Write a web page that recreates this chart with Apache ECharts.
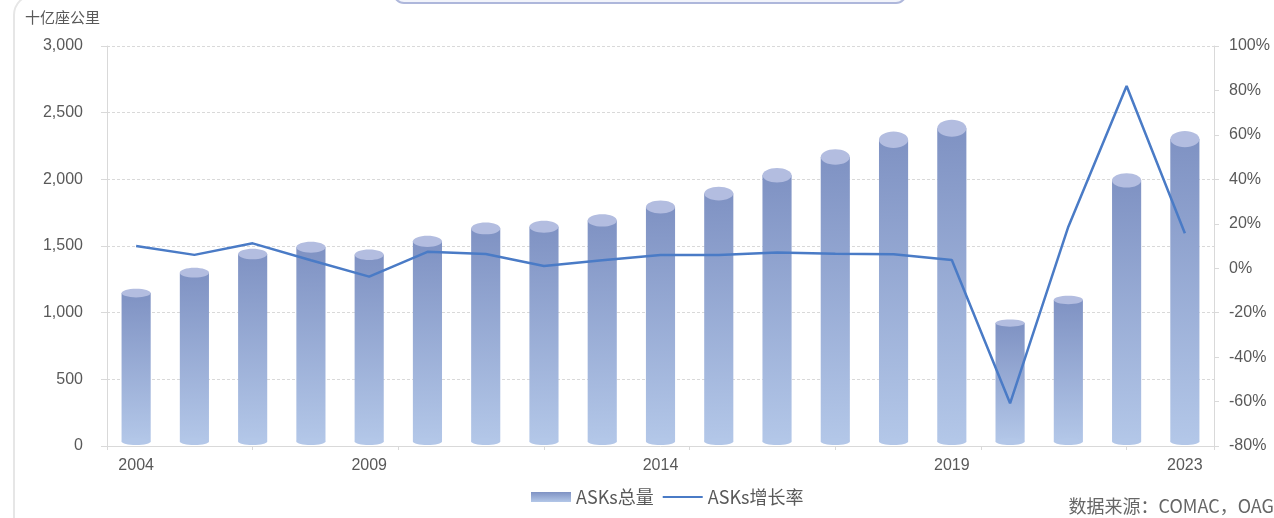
<!DOCTYPE html>
<html>
<head>
<meta charset="utf-8">
<script src="https://cdn.jsdelivr.net/npm/echarts@6/dist/echarts.min.js"></script>
<style>
html,body{margin:0;padding:0;background:#fff;}
#chart{width:1274px;height:518px;}
</style>
</head>
<body>
<div id="chart"></div>
<script>
var years = ['2004','2006','2007','2008','2009','2010','2011','2012','2013','2014','2015','2016','2017','2018','2019','2020','2021','2022','2023'];
var asks = [1147, 1300, 1440, 1490, 1435, 1535, 1632, 1645, 1692, 1792, 1893, 2030, 2167, 2297, 2383, 922, 1095, 1992, 2302];
var growth = [10.0, 6.0, 11.2, 3.6, -3.8, 7.4, 6.4, 1.0, 3.6, 6.0, 6.0, 7.1, 6.5, 6.3, 3.7, -60.8, 18.7, 82.0, 15.7];
var shownYearIdx = [0, 4, 9, 14, 18];
var leftTicks = {min: 0, max: 3000, interval: 500};
var rightTicks = {min: -80, max: 100, interval: 20};

var chart = echarts.init(document.getElementById('chart'));
var bodyGrad = function () {
  return new echarts.graphic.LinearGradient(0, 0, 0, 1, [
    {offset: 0, color: '#7f92c3'},
    {offset: 1, color: '#b3c7e8'}
  ]);
};
var axisFont = {fontFamily: 'Liberation Sans, Arial, sans-serif', fontSize: 16, color: '#595959'};

chart.setOption({
  animation: false,
  grid: {left: 107, right: 60, top: 46, bottom: 72},
  graphic: [
    {type: 'rect', z: -10, shape: {x: 14, y: -5, width: 1320, height: 600, r: 20},
      style: {fill: 'none', stroke: '#e6e6e6', lineWidth: 2}},
    {type: 'rect', shape: {x: 394, y: -30, width: 512, height: 33, r: 10},
      style: {fill: '#f2f4fb', stroke: '#aeb7db', lineWidth: 2}},
    {type: 'text', left: 25, top: 10,
      style: {text: '十亿座公里', font: '15px "Noto Sans CJK SC"', fill: '#595959'}},
    {type: 'text', right: 0, top: 497,
      style: {text: '数据来源：COMAC，OAG', font: '18px "Noto Sans CJK SC"', fill: '#666666'}}
  ],
  legend: {
    left: 526, top: 483,
    itemWidth: 40, itemHeight: 10, itemGap: 9,
    textStyle: {fontSize: 18, color: '#595959', fontFamily: 'Noto Sans CJK SC'},
    data: [
      {name: 'ASKs总量', icon: 'rect'},
      {name: 'ASKs增长率', icon: 'path://M0 0H40V2H0Z'}
    ]
  },
  xAxis: [
    {
      type: 'category', data: years, boundaryGap: true,
      axisLine: {show: true, onZero: false, lineStyle: {color: '#d9d9d9', width: 1}},
      axisTick: {show: false},
      axisLabel: Object.assign({
        margin: 12,
        interval: function (i) { return shownYearIdx.indexOf(i) >= 0; }
      }, axisFont),
      splitLine: {show: false}
    },
    {
      type: 'value', position: 'bottom', min: 0, max: years.length, interval: 2.5,
      axisLine: {show: false, onZero: false},
      axisTick: {show: true, length: 4, lineStyle: {color: '#d9d9d9'}},
      axisLabel: {show: false},
      splitLine: {show: false}
    }
  ],
  yAxis: [
    {
      type: 'value', min: leftTicks.min, max: leftTicks.max, interval: leftTicks.interval,
      axisLine: {show: true, lineStyle: {color: '#d9d9d9'}},
      axisTick: {show: true, length: 6, lineStyle: {color: '#d9d9d9'}},
      axisLabel: Object.assign({
        margin: 24,
        formatter: function (v) { return v.toLocaleString('en-US'); }
      }, axisFont),
      splitLine: {show: true, lineStyle: {color: '#d9d9d9', type: [3, 2]}}
    },
    {
      type: 'value', min: rightTicks.min, max: rightTicks.max, interval: rightTicks.interval,
      position: 'right',
      axisLine: {show: true, onZero: false, lineStyle: {color: '#d9d9d9'}},
      axisTick: {show: true, length: 5, lineStyle: {color: '#d9d9d9'}},
      axisLabel: Object.assign({margin: 15, formatter: '{value}%'}, axisFont),
      splitLine: {show: false}
    }
  ],
  series: [
    {
      name: 'ASKs总量', type: 'custom', xAxisIndex: 0, yAxisIndex: 0,
      itemStyle: {color: bodyGrad()},
      encode: {x: 0, y: 1},
      data: asks.map(function (v, i) { return [i, v]; }),
      renderItem: function (params, api) {
        var idx = api.value(0), v = api.value(1);
        var top = api.coord([idx, v]);
        var base = api.coord([idx, 0]);
        var w = api.size([1, 0])[0] * 0.5;
        var h = base[1] - top[1];
        var capRy = (1 + h * 0.05) / 2;
        var botRy = 3.5;
        return {
          type: 'group',
          children: [
            {type: 'rect', shape: {x: top[0] - w / 2, y: top[1], width: w, height: h - botRy - 1},
              style: {fill: bodyGrad()}},
            {type: 'ellipse', shape: {cx: top[0], cy: base[1] - botRy - 1, rx: w / 2, ry: botRy},
              style: {fill: '#b3c7e8'}},
            {type: 'ellipse', shape: {cx: top[0], cy: top[1], rx: w / 2, ry: capRy},
              style: {fill: '#b3bde0'}}
          ]
        };
      }
    },
    {
      name: 'ASKs增长率', type: 'line', xAxisIndex: 0, yAxisIndex: 1,
      data: growth, symbol: 'none', showSymbol: false,
      lineStyle: {color: '#4a7bc6', width: 2.5},
      itemStyle: {color: '#4a7bc6'},
      z: 5
    }
  ]
});
</script>
</body>
</html>
